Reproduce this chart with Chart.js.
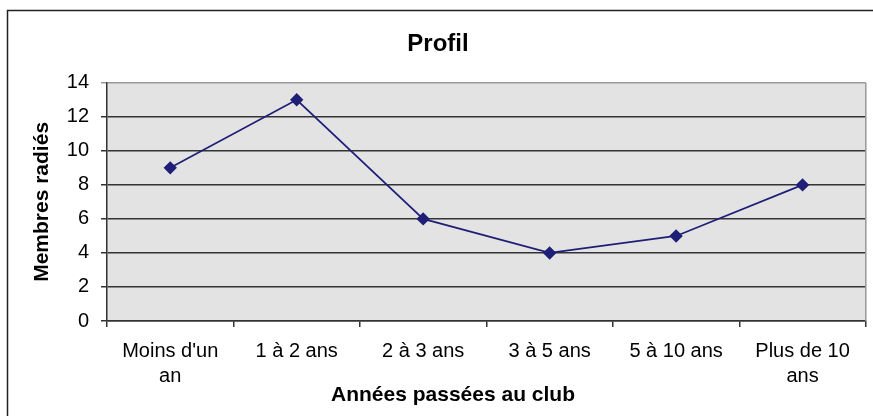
<!DOCTYPE html>
<html><head><meta charset="utf-8">
<script src="https://cdn.jsdelivr.net/npm/chart.js@4"></script>
<style>html,body{margin:0;padding:0;background:#fff}#wrap{width:873px;height:416px}</style>
</head><body><div id="wrap"><canvas id="c" width="873" height="416"></canvas></div>
<script>
const categories = [["Moins d'un","an"],"1 à 2 ans","2 à 3 ans","3 à 5 ans","5 à 10 ans",["Plus de 10","ans"]];
const values = [9, 13, 6, 4, 5, 8];
const yTicks = [0, 2, 4, 6, 8, 10, 12, 14];
const xTitle = 'Années passées au club';
const FONT = "'Liberation Sans', Arial, sans-serif";

const deco = {
  id: 'deco',
  beforeDraw(chart) {
    const {ctx, chartArea: a} = chart;
    ctx.save();
    ctx.fillStyle = '#fff';
    ctx.fillRect(0, 0, chart.width, chart.height);
    ctx.fillStyle = '#e3e3e3';
    ctx.fillRect(a.left, a.top, a.right - a.left, a.bottom - a.top);
    ctx.restore();
  },
  afterDraw(chart) {
    const {ctx, chartArea: a} = chart;
    ctx.save();
    ctx.strokeStyle = '#999';
    ctx.lineWidth = 1.5;
    ctx.beginPath();
    ctx.moveTo(a.right, a.top); ctx.lineTo(a.right, a.bottom);
    ctx.stroke();
    ctx.strokeStyle = '#222';
    ctx.lineWidth = 1.5;
    ctx.beginPath();
    ctx.moveTo(873, 10.5); ctx.lineTo(7.5, 10.5); ctx.lineTo(7.5, 416);
    ctx.stroke();
    // x axis title
    ctx.fillStyle = '#000';
    ctx.font = 'bold 21px ' + FONT;
    ctx.textAlign = 'center';
    ctx.textBaseline = 'middle';
    ctx.fillText(xTitle, 453, 395);
    ctx.restore();
  }
};

new Chart(document.getElementById('c'), {
  type: 'line',
  data: {
    labels: categories,
    datasets: [{
      data: values,
      borderColor: '#1f1f78',
      backgroundColor: '#1f1f78',
      borderWidth: 1.7,
      pointStyle: 'rectRot',
      pointRadius: 5.5,
      pointHoverRadius: 5.5,
      tension: 0
    }]
  },
  options: {
    responsive: false,
    animation: false,
    devicePixelRatio: 1,
    layout: { padding: { left: 8, right: 5, top: 10, bottom: 0 } },
    plugins: {
      legend: { display: false },
      tooltip: { enabled: false },
      title: {
        display: true, text: 'Profil', color: '#000',
        font: { family: FONT, size: 24, weight: 'bold' },
        padding: { top: 20, bottom: 24 }
      }
    },
    scales: {
      x: {
        offset: true,
        afterFit(scale) { scale.height = 95; },
        grid: { display: true, drawOnChartArea: false, drawTicks: true, tickLength: 6, color: '#333', offset: true, lineWidth: 1.5 },
        border: { display: true, color: '#333', width: 1.5 },
        ticks: { color: '#000', font: { family: FONT, size: 20, lineHeight: 1.25 }, padding: 12, maxRotation: 0, autoSkip: false },
        title: { display: false }
      },
      y: {
        min: 0, max: 14,
        afterBuildTicks(scale) { scale.ticks = yTicks.map(v => ({ value: v })); },
        afterFit(scale) { scale.width = 99; },
        grid: {
          color: ctx => (ctx.tick && ctx.tick.value === 14) ? '#999' : '#333',
          lineWidth: 1.5, tickLength: 6, drawTicks: true
        },
        border: { display: true, color: '#333', width: 1.5 },
        ticks: { color: '#000', font: { family: FONT, size: 20 }, padding: 12 },
        title: { display: true, text: 'Membres radiés', color: '#000', font: { family: FONT, size: 21, weight: 'bold' }, padding: { top: 22, bottom: 0 } }
      }
    }
  },
  plugins: [deco]
});
</script></body></html>
